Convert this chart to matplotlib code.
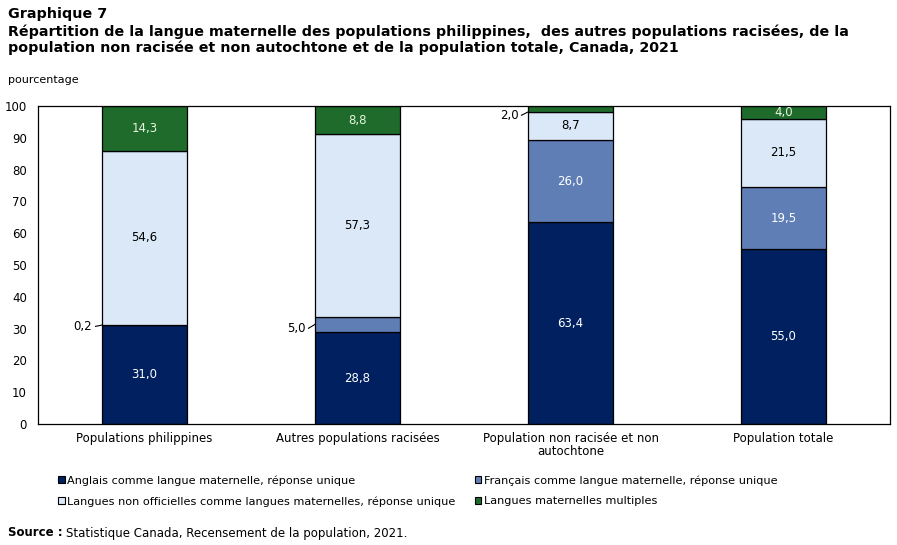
import matplotlib
matplotlib.use('Agg')
import matplotlib.pyplot as plt
import numpy as np
from matplotlib.patches import Patch

categories = ['Populations philippines', 'Autres populations racisées',
              'Population non racisée et non\nautochtone', 'Population totale']
anglais = [31.0, 28.8, 63.4, 55.0]
francais = [0.2, 5.0, 26.0, 19.5]
non_off = [54.6, 57.3, 8.7, 21.5]
multiples = [14.3, 8.8, 2.0, 4.0]
series_names = ['Anglais comme langue maternelle, réponse unique',
                'Français comme langue maternelle, réponse unique',
                'Langues non officielles comme langues maternelles, réponse unique',
                'Langues maternelles multiples']
colors = ['#002060', '#5F7EB5', '#DAE8F7', '#1E6B2C']
text_colors = ['white', 'white', 'black', '#E8F5E0']
yticks = [0, 10, 20, 30, 40, 50, 60, 70, 80, 90, 100]

# segments labelled outside the bar (series index, category index) -> text offset
outside = {(1, 0): -0.4, (1, 1): -1.2, (3, 2): -2.0}

plt.rcParams['font.family'] = ['DejaVu Sans']
fig = plt.figure(figsize=(8.97, 5.45), dpi=100)
ax = fig.add_axes([38 / 897, 1 - 424 / 545, 852 / 897, 318 / 545])

x = np.arange(len(categories))
series = [anglais, francais, non_off, multiples]
bottom = np.zeros(len(categories))
for i, vals in enumerate(series):
    vals = np.array(vals)
    ax.bar(x, vals, width=0.4, bottom=bottom, color=colors[i],
           edgecolor='black', linewidth=0.9, zorder=2)
    for j, v in enumerate(vals):
        lab = '{:.1f}'.format(v).replace('.', ',')
        yc = bottom[j] + v / 2
        if (i, j) in outside:
            ty = yc + outside[(i, j)]
            x0 = x[j] - 0.2
            # leader meets the bar a little below the segment for the top one
            ye = yc - 1.0 if i == 3 else yc
            ax.plot([x0 - 0.03, x0], [ty, ye], color='black', linewidth=0.8,
                    clip_on=False, zorder=3)
            ax.text(x0 - 0.045, ty, lab, ha='right', va='center',
                    fontsize=8.5, color='black')
        else:
            ax.text(x[j], yc, lab, ha='center', va='center',
                    fontsize=8.5, color=text_colors[i])
    bottom = bottom + vals

ax.set_xlim(-0.5, len(categories) - 0.5)
ax.set_ylim(0, 100)
ax.set_yticks(yticks)
ax.set_yticklabels([str(t) for t in yticks], fontsize=8.5)
ax.set_xticks(x)
ax.set_xticklabels(categories, fontsize=8.5, linespacing=1.0)
ax.tick_params(axis='both', length=0, pad=6)
ax.tick_params(axis='y', pad=8)
for s in ax.spines.values():
    s.set_linewidth(0.9)

fig.text(8 / 897, 1 - 14 / 545, 'Graphique 7', fontsize=10.3, fontweight='bold', va='center')
fig.text(8 / 897, 1 - 40 / 545,
         'Répartition de la langue maternelle des populations philippines,  des autres populations racisées, de la\n'
         'population non racisée et non autochtone et de la population totale, Canada, 2021',
         fontsize=10.3, fontweight='bold', va='center', linespacing=1.1)
fig.text(8 / 897, 1 - 80 / 545, 'pourcentage', fontsize=8, va='center')

handles = [Patch(facecolor=c, edgecolor='black', linewidth=0.8) for c in colors]
order = [0, 2, 1, 3]
fig.legend([handles[k] for k in order], [series_names[k] for k in order],
           loc='upper left', bbox_to_anchor=(48 / 897, 1 - 465 / 545),
           ncol=2, frameon=False, fontsize=8.1, handlelength=0.6, handleheight=0.6,
           handletextpad=0.2, columnspacing=1.7, labelspacing=0.95)

src = fig.text(8 / 897, 1 - 533 / 545, 'Source :', fontsize=8.5, fontweight='bold', va='center')
r = fig.canvas.get_renderer()
bb = src.get_window_extent(renderer=r)
fig.text(bb.x1 / fig.bbox.width + 3 / 897, 1 - 533 / 545,
         'Statistique Canada, Recensement de la population, 2021.',
         fontsize=8.5, va='center')

fig.savefig('out.png', dpi=100)
